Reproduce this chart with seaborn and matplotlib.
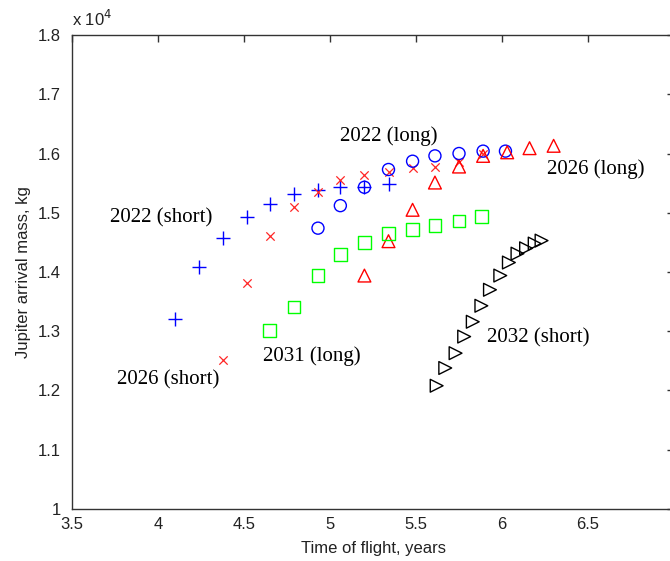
import matplotlib
matplotlib.use("Agg")
import matplotlib.pyplot as plt
import seaborn as sns
import pandas as pd

# ---- data (mass in kg) ----
short2022_x = [4.10, 4.24, 4.38, 4.52, 4.65, 4.79, 4.93, 5.06, 5.20, 5.34]
short2022_y = [13210, 14080, 14570, 14920, 15140, 15310, 15380, 15430, 15430, 15490]

short2026_x = [4.38, 4.52, 4.65, 4.79, 4.93, 5.06, 5.20, 5.34, 5.48, 5.61, 5.75, 5.89]
short2026_y = [12520, 13820, 14600, 15100, 15350, 15550, 15640, 15690, 15750, 15770, 15850, 16000]

long2022_x = [4.93, 5.06, 5.20, 5.34, 5.48, 5.61, 5.75, 5.89, 6.02]
long2022_y = [14740, 15120, 15430, 15730, 15870, 15960, 16000, 16040, 16040]

long2026_x = [5.20, 5.34, 5.48, 5.61, 5.75, 5.89, 6.03, 6.16, 6.30]
long2026_y = [13940, 14520, 15050, 15510, 15780, 15960, 16020, 16090, 16130]

long2031_x = [4.65, 4.79, 4.93, 5.06, 5.20, 5.34, 5.48, 5.61, 5.75, 5.88]
long2031_y = [13010, 13410, 13940, 14290, 14500, 14650, 14720, 14790, 14860, 14930]

short2032_x = [5.62, 5.67, 5.73, 5.78, 5.83, 5.88, 5.93, 5.99, 6.04, 6.09, 6.14, 6.19, 6.23]
short2032_y = [12080, 12380, 12630, 12910, 13160, 13430, 13700, 13940, 14160, 14310, 14400, 14480, 14530]

labels = ["2022 (short)", "2026 (short)", "2031 (long)", "2022 (long)", "2026 (long)", "2032 (short)"]
label_x = [3.72, 3.76, 4.61, 5.06, 6.26, 5.91]
label_y = [14916, 12180, 12580, 16300, 15730, 12890]

x_ticks = [3.5, 4, 4.5, 5, 5.5, 6, 6.5, 7]
y_ticks = [10000, 11000, 12000, 13000, 14000, 15000, 16000, 17000, 18000]

sns.set_theme(style="white")
plt.rcParams['font.family'] = ['Liberation Sans', 'DejaVu Sans']

fig = plt.figure(figsize=(6.7, 5.61), dpi=100)
ax = fig.add_axes([0.1075, 0.0927, 0.8985, 0.8449])

series = [
    (short2022_x, short2022_y, "+", (0, 0, 1), 95, 1.0),
    (short2026_x, short2026_y, "x", (1, 0.15, 0.15), 36, 0.9),
    (long2022_x, long2022_y, "o", (0, 0, 1), 75, 1.0),
    (long2026_x, long2026_y, "^", (1, 0, 0), 85, 1.0),
    (long2031_x, long2031_y, "s", (0, 1, 0), 85, 1.0),
    (short2032_x, short2032_y, ">", (0, 0, 0), 85, 1.0),
]
for xs, ys, m, c, s, lw in series:
    df = pd.DataFrame({"t": xs, "m": ys})
    if m in ("+", "x"):
        sns.scatterplot(data=df, x="t", y="m", marker=m, color=c, s=s,
                        linewidth=lw, ax=ax, legend=False)
    else:
        sns.scatterplot(data=df, x="t", y="m", marker=m, s=s,
                        facecolor="none", edgecolor=c, linewidth=lw,
                        ax=ax, legend=False)

for t, lx, ly in zip(labels, label_x, label_y):
    ax.text(lx, ly, t, ha="left", va="center", fontsize=15,
            family=["Liberation Serif", "DejaVu Serif"], color="black")

ax.set_xlim(3.5, 7)
ax.set_ylim(10000, 18000)
ax.set_xticks(x_ticks)
ax.set_yticks(y_ticks)
ax.set_xticklabels(["%g" % v for v in x_ticks])
ax.set_yticklabels(["%g" % (v / 1e4) for v in y_ticks])
ax.tick_params(direction="in", length=5, width=1, colors="#333333",
               top=True, right=True, labelsize=12, labelcolor="#222222")
ax.tick_params(axis="x", pad=6)
ax.tick_params(axis="y", pad=8)
for sp in ax.spines.values():
    sp.set_color("#333333")
    sp.set_linewidth(1)
    sp.set_visible(True)

ax.set_xlabel("Time of flight, years", fontsize=12, color="#222222", labelpad=6)
ax.set_ylabel("Jupiter arrival mass, kg", fontsize=12, color="#222222", labelpad=5)
ax.text(0.0, 1.012, r"x 10$^{4}$", transform=ax.transAxes, ha="left",
        va="bottom", fontsize=12, color="#222222")

fig.savefig("out.png", dpi=100)
